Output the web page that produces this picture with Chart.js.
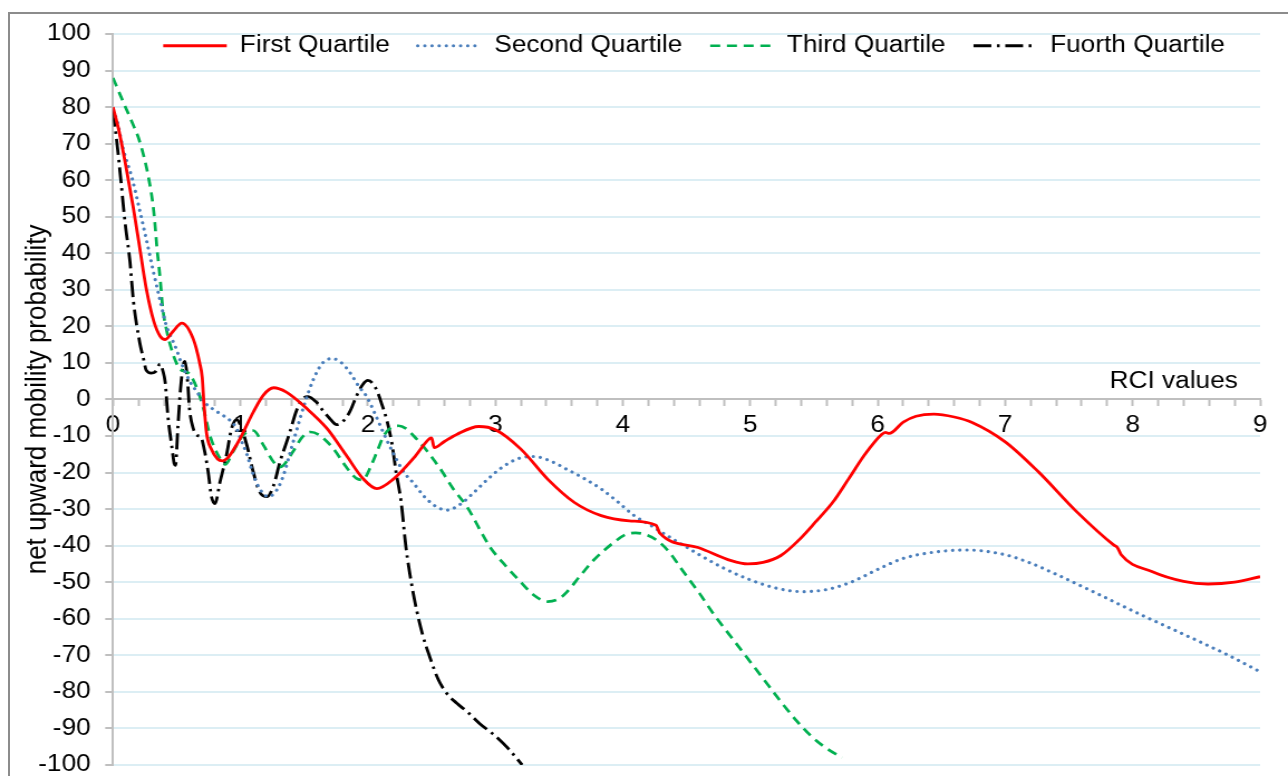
<!DOCTYPE html>
<html>
<head>
<meta charset="utf-8">
<title>Net upward mobility probability by RCI value</title>
<script src="https://cdn.jsdelivr.net/npm/chart.js@4/dist/chart.umd.min.js"></script>
<style>
  html, body { margin: 0; padding: 0; background: #ffffff; overflow: hidden; }
  #frame {
    position: absolute; left: 8px; top: 12px; width: 1300px; height: 800px;
    border: 2px solid #8c8c8c; box-sizing: border-box;
  }
  /* the plot is laid out on a 1155px wide canvas and widened to 1288px */
  #stage {
    position: absolute; left: 0; top: 0; width: 1155px; height: 792px;
    transform: scaleX(1.11515); transform-origin: 0 0;
  }
</style>
</head>
<body>
<div id="frame"></div>
<div id="stage"><canvas id="chart" width="1155" height="792"></canvas></div>
<script>
// ---- data -------------------------------------------------------------
const seriesNames = ['First Quartile', 'Second Quartile', 'Third Quartile', 'Fuorth Quartile'];
const xTickLabels = ['0', '1', '2', '3', '4', '5', '6', '7', '8', '9'];
const xAxisTitle = 'RCI values';
const yAxisTitle = 'net upward mobility probability';

const firstRci = [0, 0.05, 0.1, 0.16, 0.21, 0.26, 0.32, 0.37, 0.41, 0.47, 0.54, 0.63, 0.68, 0.70, 0.715, 0.735,
  0.77, 0.82, 0.86, 0.9, 0.95, 1.0, 1.1, 1.18, 1.26, 1.36, 1.52, 1.68, 1.83, 1.96, 2.07, 2.2, 2.36, 2.48, 2.50,
  2.52, 2.6, 2.7, 2.87, 3.0, 3.2, 3.41, 3.62, 3.83, 4.05, 4.26, 4.29, 4.59, 4.85, 4.98, 5.1, 5.24, 5.38, 5.51,
  5.65, 5.77, 5.9, 6.03, 6.06, 6.09, 6.2, 6.3, 6.44, 6.6, 6.74, 7.0, 7.26, 7.56, 7.85, 7.88, 7.91, 8.15, 8.4,
  8.59, 8.8, 9.0];
const firstProb = [80, 73, 64, 52.3, 41.4, 30.5, 21.4, 17.3, 16.4, 18.6, 20.9, 16.5, 10, 6, -2, -9.5,
  -13.5, -16.3, -16.8, -16, -13.5, -10.5, -3.5, 1.2, 3.2, 2.0, -2.5, -8, -15.3, -21.6, -24.4, -21.8, -16, -10.8, -10.5,
  -13.2, -11.5, -9.5, -7.4, -8.3, -13.6, -21.8, -28.2, -31.8, -33.2, -34.4, -36.6, -40.5, -44.1, -45, -44.6, -42.7, -38.5, -33.6,
  -28, -21.8, -15, -9.6, -9, -9.3, -6.2, -4.6, -4.0, -4.8, -6.3, -11.6, -19.8, -30.7, -39.8, -40.5, -42.5, -47.1, -49.8,
  -50.5, -50, -48.5];

const secondRci = [0, 0.03, 0.08, 0.15, 0.21, 0.26, 0.32, 0.37, 0.42, 0.45, 0.5, 0.53, 0.61, 0.66, 0.71, 0.79,
  0.86, 0.92, 0.97, 1.0, 1.05, 1.1, 1.15, 1.22, 1.29, 1.34, 1.39, 1.44, 1.5, 1.57, 1.64, 1.72, 1.8, 1.86, 1.93,
  1.99, 2.05, 2.12, 2.2, 2.28, 2.36, 2.44, 2.53, 2.62, 2.72, 2.83, 2.94, 3.04, 3.17, 3.3, 3.43, 3.56, 3.7, 3.83,
  3.96, 4.09, 4.22, 4.35, 4.48, 4.61, 4.8, 4.98, 5.2, 5.41, 5.6, 5.79, 6.0, 6.2, 6.44, 6.7, 7.0, 7.2, 7.41, 7.63,
  7.85, 8.07, 8.29, 8.52, 8.74, 9.0];
const secondProb = [79, 76.4, 68.5, 60.5, 51.7, 44, 34.5, 27, 20, 17.5, 13.5, 10.5, 4.5, 2, -0.5, -2.8,
  -4.3, -5.8, -8, -10.7, -15, -20.5, -24.4, -26.6, -24.5, -20.5, -14.5, -8.5, -1.5, 5.3, 9.8, 11.2, 9.8, 7.3, 3.5,
  0.8, -3.5, -9, -14.8, -19.8, -23, -26.5, -29.2, -30.3, -28.8, -25.5, -21.8, -18.9, -16.3, -15.6, -16.8, -19.1, -21.7, -24.5,
  -28, -31.8, -34.5, -37.3, -40, -42.7, -46.3, -49.1, -51.6, -52.6, -52, -50, -46.5, -43.5, -41.8, -41.2, -42.5, -44.8, -48, -51.6,
  -55.3, -59, -62.5, -66.2, -69.8, -74.5];

const thirdRci = [0, 0.08, 0.16, 0.21, 0.28, 0.32, 0.345, 0.37, 0.39, 0.42, 0.47, 0.52, 0.55, 0.6, 0.66, 0.71,
  0.76, 0.84, 0.88, 0.94, 1.02, 1.1, 1.18, 1.26, 1.31, 1.41, 1.48, 1.55, 1.62, 1.73, 1.83, 1.91, 1.96, 2.02, 2.07,
  2.12, 2.17, 2.24, 2.3, 2.36, 2.45, 2.57, 2.67, 2.78, 2.9, 2.96, 3.08, 3.2, 3.3, 3.41, 3.5, 3.56, 3.66, 3.77,
  3.93, 4.02, 4.1, 4.18, 4.27, 4.37, 4.46, 4.6, 4.72, 4.85, 4.98, 5.11, 5.24, 5.36, 5.48, 5.6, 5.72];
const thirdProb = [88, 81.4, 75, 70.5, 60.5, 51.4, 41.4, 33, 25, 19, 12.5, 8.5, 7.8, 7, 2.9, -2.5,
  -9.8, -16.2, -17.8, -14.4, -9.8, -8.5, -12.5, -17.1, -18.5, -14.4, -10.5, -8.9, -9.8, -13.5, -18.5, -21.6, -22, -18.5, -14.4,
  -10.2, -8, -7.2, -8, -10, -13.5, -19.1, -24.5, -29.5, -37, -40.5, -45.5, -50, -53.5, -55.3, -54.5, -52.7, -48.5, -44,
  -39.1, -37, -36.5, -37, -38.6, -42, -46.4, -53, -59.1, -65, -70.9, -76.8, -82.7, -87.8, -92.2, -95.5, -98];

const fourthRci = [0, 0.03, 0.055, 0.094, 0.133, 0.16, 0.21, 0.24, 0.26, 0.3, 0.33, 0.37, 0.39, 0.41, 0.43, 0.46,
  0.48, 0.49, 0.51, 0.53, 0.55, 0.565, 0.585, 0.6, 0.63, 0.66, 0.69, 0.72, 0.75, 0.77, 0.8, 0.84, 0.89, 0.93, 0.97,
  1.01, 1.05, 1.1, 1.15, 1.21, 1.26, 1.31, 1.38, 1.44, 1.49, 1.53, 1.6, 1.65, 1.7, 1.755, 1.81, 1.86, 1.91, 1.96,
  2.0, 2.06, 2.11, 2.15, 2.19, 2.22, 2.26, 2.3, 2.34, 2.38, 2.43, 2.49, 2.55, 2.62, 2.7, 2.78, 2.88, 2.99, 3.1, 3.21];
const fourthProb = [79, 70.5, 62.3, 48.6, 37.7, 27, 15.5, 11, 8, 7.2, 7.5, 9.7, 8, 4.5, -4.4, -12.5,
  -17.5, -18, -7, 3, 9.3, 10.4, 5, -2.5, -8, -9.8, -10.3, -14.4, -20.7, -26.2, -28.5, -22.5, -15.3, -8, -5.5,
  -8, -12.5, -19.8, -25.3, -26.6, -23.5, -17.1, -9.8, -3, 0.2, 0.8, -0.9, -3.2, -5.2, -6.9, -5.8, -3.2, 0.9, 4.1,
  5.2, 3.2, -1.4, -5.9, -12.4, -19.7, -27.9, -40.9, -50, -57.3, -64.5, -70.9, -76.5, -80.5, -83.2, -85.5, -88.8, -91.8, -95.5, -100];

// ---- styling ----------------------------------------------------------
const FONT = '"Liberation Sans", Arial, sans-serif';
const lineStyles = [
  { color: '#FF0000', width: 2.8, dash: [], cap: 'butt' },
  { color: '#4A7EBB', width: 3.1, dash: [0.01, 6.4], cap: 'round' },
  { color: '#00B050', width: 2.7, dash: [9, 6], cap: 'butt' },
  { color: '#000000', width: 2.8, dash: [16, 5, 2.5, 5], cap: 'butt' }
];
const seriesData = [
  [firstRci, firstProb],
  [secondRci, secondProb],
  [thirdRci, thirdProb],
  [fourthRci, fourthProb]
];
const toPoints = (xs, ys) => xs.map((x, i) => ({ x: x, y: ys[i] }));

Chart.defaults.font.family = FONT;
Chart.defaults.color = '#000000';

// legend sits inside the plot, just under the top gridline
const legendInPlot = {
  id: 'legendInPlot',
  afterLayout(chart) {
    const lg = chart.legend;
    if (!lg) return;
    const pad = lg.options.labels.padding;
    const area = chart.chartArea;
    lg.top = area.top - pad;
    lg.bottom = lg.top + pad * 2 + 40;
    lg.height = lg.bottom - lg.top;
    lg.left = area.left + 20;
    lg.right = area.right;
    lg.width = lg.right - lg.left;
  }
};

// horizontal axis caption, written above the axis line at its right end
const axisCaption = {
  id: 'axisCaption',
  afterDraw(chart) {
    const { ctx, chartArea, scales } = chart;
    const y0 = scales.y.getPixelForValue(0);
    ctx.save();
    ctx.font = '23.5px ' + FONT;
    ctx.fillStyle = '#000000';
    ctx.textAlign = 'right';
    ctx.textBaseline = 'middle';
    ctx.fillText(xAxisTitle, chartArea.right - 20, y0 - 18);
    ctx.restore();
  }
};

new Chart(document.getElementById('chart'), {
  type: 'line',
  data: {
    datasets: seriesData.map((s, i) => ({
      label: seriesNames[i],
      data: toPoints(s[0], s[1]),
      borderColor: lineStyles[i].color,
      backgroundColor: lineStyles[i].color,
      borderWidth: lineStyles[i].width,
      borderDash: lineStyles[i].dash,
      borderCapStyle: lineStyles[i].cap,
      borderJoinStyle: 'round',
      pointRadius: 0,
      pointHoverRadius: 0,
      pointStyle: 'line',
      cubicInterpolationMode: 'monotone',
      fill: false
    }))
  },
  options: {
    responsive: false,
    animation: false,
    devicePixelRatio: 1,
    events: [],
    layout: { padding: { left: 0, right: 25, top: 33, bottom: 13 } },
    plugins: {
      tooltip: { enabled: false },
      legend: {
        display: true,
        position: 'top',
        align: 'start',
        maxHeight: 1,
        labels: {
          usePointStyle: true,
          pointStyle: 'line',
          pointStyleWidth: 57,
          padding: 25,
          color: '#000000',
          font: { size: 23.5, family: FONT },
          generateLabels(chart) {
            const items = Chart.defaults.plugins.legend.labels.generateLabels(chart);
            items.forEach(it => {
              const st = lineStyles[it.datasetIndex];
              it.strokeStyle = st.color;
              it.lineWidth = st.width;
              it.lineDash = st.dash;
              it.lineCap = st.cap;
            });
            return items;
          }
        }
      }
    },
    scales: {
      x: {
        type: 'linear',
        position: { y: 0 },
        min: 0,
        max: 9,
        offset: false,
        border: { display: true, color: '#BFBFBF', width: 2 },
        grid: { drawOnChartArea: false, drawTicks: true, tickLength: 6, tickColor: '#BFBFBF', tickWidth: 2 },
        ticks: {
          stepSize: 0.2,
          autoSkip: false,
          maxRotation: 0,
          minRotation: 0,
          padding: 6,
          color: '#000000',
          font: { size: 23.5, family: FONT },
          callback(value) {
            const k = Math.round(value * 5);
            return k % 5 === 0 ? xTickLabels[k / 5] : '';
          }
        }
      },
      y: {
        type: 'linear',
        position: 'left',
        min: -100,
        max: 100,
        afterFit(scale) { scale.width = 101.33; },
        border: { display: true, color: '#BFBFBF', width: 2 },
        grid: { color: '#DCEEF4', lineWidth: 2, tickLength: 7, tickColor: '#BFBFBF', tickWidth: 2 },
        ticks: {
          stepSize: 10,
          padding: 13,
          color: '#000000',
          font: { size: 23.5, family: FONT }
        },
        title: {
          display: true,
          text: yAxisTitle,
          color: '#000000',
          font: { size: 26, family: FONT },
          padding: { top: 18, bottom: 0 }
        }
      }
    }
  },
  plugins: [legendInPlot, axisCaption]
});
</script>
</body>
</html>
